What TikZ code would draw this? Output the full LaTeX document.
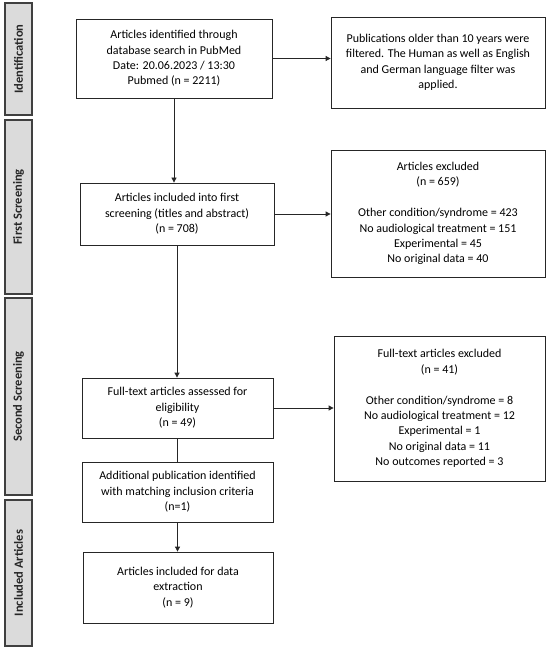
\documentclass[tikz,border=0pt]{standalone}
\usepackage{fontspec}
\setmainfont{Carlito}
\usetikzlibrary{positioning,arrows.meta}
\tikzset{
	stagebox/.style={rectangle,draw=black!85,line width=0.8pt,fill=white,align=center,inner sep=2pt,font=\fontsize{12}{15.4}\selectfont},
	phase/.style={rectangle,draw=black!75,line width=1.4pt,fill=black!14,minimum height=27pt,rotate=90,font=\fontsize{12.5}{13}\selectfont\bfseries,text=black!85},
	diredge/.style={->,>={Triangle[width=5pt,length=5pt]},color=black!85,line width=0.8pt},
	edge/.style={color=black!85,line width=0.8pt}
}
\begin{document}
\begin{tikzpicture}[x=1pt,y=1pt]
		\useasboundingbox (0,0) rectangle (550,-652);
		\node [phase, minimum width=112pt] (p1) at (18.5, -59) {Identification};
		\node [phase, minimum width=174pt] (p2) at (18.5, -207) {First Screening};
		\node [phase, minimum width=197pt] (p3) at (18.5, -396.5) {Second Screening};
		\node [phase, minimum width=146pt] (p4) at (18.5, -573) {Included Articles};
		
		\node [stagebox, minimum width=196pt, minimum height=79pt] (ident) at (174, -58.5) {Articles identified through\\database search in PubMed\\Date: 20.06.2023 / 13:30\\Pubmed (n = 2211)};
		\node [stagebox, minimum width=214pt, minimum height=91pt] (filter) at (438, -62.5) {Publications older than 10 years were\\filtered. The Human as well as English\\and German language filter was\\applied.};
		\node [stagebox, minimum width=194pt, minimum height=62pt] (first) at (177, -214) {Articles included into first\\screening (titles and abstract)\\(n = 708)};
		\node [stagebox, minimum width=214pt, minimum height=127pt] (excl1) at (438, -213.5) {Articles excluded\\(n = 659)\\[15.4pt]Other condition/syndrome = 423\\No audiological treatment = 151\\Experimental = 45\\No original data = 40};
		\node [stagebox, minimum width=191pt, minimum height=60pt] (full) at (177.5, -408) {Full-text articles assessed for\\eligibility\\(n = 49)};
		\node [stagebox, minimum width=211pt, minimum height=145pt] (excl2) at (439.5, -408.5) {Full-text articles excluded\\(n = 41)\\[15.4pt]Other condition/syndrome = 8\\No audiological treatment = 12\\Experimental = 1\\No original data = 11\\No outcomes reported = 3};
		\node [stagebox, minimum width=191pt, minimum height=60pt] (addit) at (177.5, -492) {Additional publication identified\\with matching inclusion criteria\\(n=1)};
		\node [stagebox, minimum width=190pt, minimum height=71pt] (incl) at (178, -587.5) {Articles included for data\\extraction\\(n = 9)};
		
		\draw [diredge] (ident.east) to (ident.east -| filter.west);
		\draw [diredge] (ident.south) to (ident.south |- first.north);
		\draw [diredge] (first.east) to (first.east -| excl1.west);
		\draw [diredge] (first.south) to (first.south |- full.north);
		\draw [diredge] (full.east) to (full.east -| excl2.west);
		\draw [edge] (full.south) to (full.south |- addit.north);
		\draw [diredge] (addit.south) to (addit.south |- incl.north);
		
	\end{tikzpicture}
\end{document}
